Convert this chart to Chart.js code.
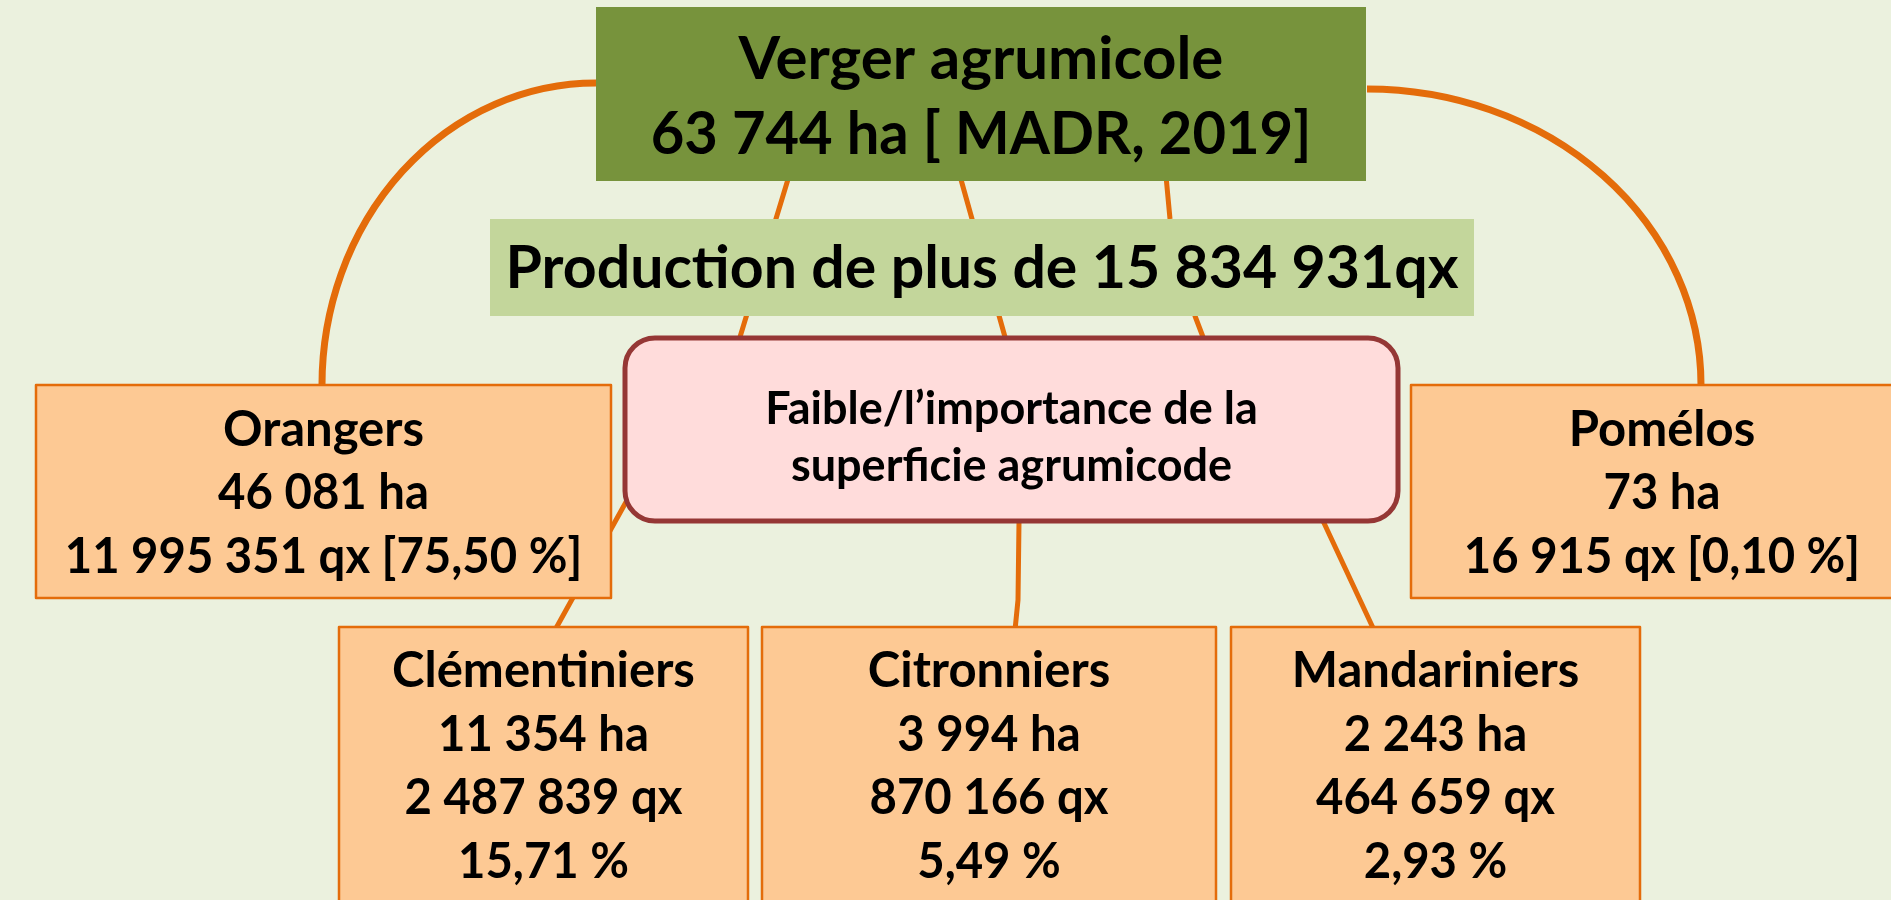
<!DOCTYPE html>
<html><head><meta charset="utf-8">
<script src="https://cdn.jsdelivr.net/npm/chart.js@4"></script>
<style>html,body{margin:0;padding:0;background:#EBF1DE;overflow:hidden}canvas{display:block}</style>
</head><body>
<canvas id="c" width="1891" height="900" style="width:1891px;height:900px"></canvas>
<script>
// ---- Data ----
const categories = ['Orangers', 'Clémentiniers', 'Citronniers', 'Mandariniers', 'Pomélos'];
const surfaceHa = [46081, 11354, 3994, 2243, 73];
const productionQx = [11995351, 2487839, 870166, 464659, 16915];
const sharePct = [75.50, 15.71, 5.49, 2.93, 0.10];
const totalSurfaceHa = 63744;
const totalProductionQx = 15834931;
const titleText = 'Verger agrumicole';
const sourceText = 'MADR, 2019';
const noteLines = ['Faible/l\u2019importance de la', 'superficie agrumicode'];

// ---- Formatting ----
function grp(n) { return String(n).replace(/\B(?=(\d{3})+(?!\d))/g, ' '); }
function pct(v) { return v.toFixed(2).replace('.', ','); }

// ---- Layout (diagram geometry, in axis units) ----
const layout = {
  bg: '#EBF1DE',
  top: { x0: 596, x1: 1366, y0: 7, y1: 181, fill: '#77933C', size: 60, baselines: [79, 154] },
  prod: { x0: 490, x1: 1474, y0: 219, y1: 316, fill: '#C3D69B', size: 59, baselines: [288] },
  note: { x0: 625, x1: 1398, y0: 338, y1: 521, r: 30, fill: '#FFDCDB', stroke: '#953735', lw: 5, size: 45, baselines: [424, 481] },
  boxes: [
    { x0: 36, x1: 611, y0: 385, y1: 598, wide: true, baselines: [446, 509, 573] },
    { x0: 339, x1: 748, y0: 627, y1: 930, wide: false, baselines: [687, 751, 814, 878] },
    { x0: 762, x1: 1216, y0: 627, y1: 930, wide: false, baselines: [687, 751, 814, 878] },
    { x0: 1231, x1: 1640, y0: 627, y1: 930, wide: false, baselines: [687, 751, 814, 878] },
    { x0: 1411, x1: 1913, y0: 385, y1: 598, wide: true, baselines: [446, 509, 573] }
  ],
  boxFill: '#FDC994', boxStroke: '#E46C0A', boxSize: 49,
  lineColor: '#E46C0A',
  arcWidth: 7, connWidth: 5,
  arcs: [
    { cx: 596, cy: 385, rx: 274, ry: 302, a0: Math.PI, a1: 1.5 * Math.PI },
    { cx: 1367, cy: 385, rx: 334, ry: 296, a0: -0.5 * Math.PI, a1: 0 }
  ],
  connectors: [
    [[789, 176], [740, 337], [626, 502], [555, 630]],
    [[960, 176], [1005, 337], [1019, 522], [1018, 600], [1015, 630]],
    [[1166, 176], [1170, 219], [1195, 316], [1203, 337], [1324, 523], [1374, 630]]
  ],
  font: 'Lato, "Open Sans", sans-serif',
  sx: 1.0,
  sxDigits: 0.965
};

const diagram = {
  id: 'diagram',
  beforeDraw(chart) {
    const c = chart.ctx, X = v => chart.scales.x.getPixelForValue(v), Y = v => chart.scales.y.getPixelForValue(v);
    const L = layout;
    c.save();
    c.fillStyle = L.bg;
    c.fillRect(0, 0, chart.width, chart.height);

    // connectors
    c.strokeStyle = L.lineColor;
    c.lineJoin = 'round';
    c.lineWidth = L.arcWidth;
    L.arcs.forEach(a => {
      c.beginPath();
      c.ellipse(X(a.cx), Y(a.cy), Math.abs(X(a.cx + a.rx) - X(a.cx)), Math.abs(Y(a.cy + a.ry) - Y(a.cy)), 0, a.a0, a.a1);
      c.stroke();
    });
    c.lineWidth = L.connWidth;
    L.connectors.forEach(pts => {
      c.beginPath();
      pts.forEach((p, i) => i ? c.lineTo(X(p[0]), Y(p[1])) : c.moveTo(X(p[0]), Y(p[1])));
      c.stroke();
    });

    function rect(b, fill, stroke, lw) {
      c.fillStyle = fill;
      c.fillRect(X(b.x0), Y(b.y0), X(b.x1) - X(b.x0), Y(b.y1) - Y(b.y0));
      if (stroke) {
        c.strokeStyle = stroke; c.lineWidth = lw;
        c.strokeRect(X(b.x0), Y(b.y0), X(b.x1) - X(b.x0), Y(b.y1) - Y(b.y0));
      }
    }
    function text(lines, b, size) {
      c.fillStyle = '#000';
      c.font = 'bold ' + size + 'px ' + L.font;
      c.textAlign = 'center';
      c.textBaseline = 'alphabetic';
      const cx = X((b.x0 + b.x1) / 2);
      lines.forEach((t, i) => {
        c.save();
        c.translate(cx, Y(b.baselines[i]));
        c.scale(/^\d/.test(t) ? L.sxDigits : L.sx, 1);
        c.fillText(t, 0, 0);
        c.restore();
      });
    }

    rect(L.top, L.top.fill);
    text([titleText, grp(totalSurfaceHa) + ' ha [ ' + sourceText + ']'], L.top, L.top.size);
    rect(L.prod, L.prod.fill);
    text(['Production de plus de ' + grp(totalProductionQx) + 'qx'], L.prod, L.prod.size);

    // note rounded box
    const n = L.note;
    c.beginPath();
    c.roundRect(X(n.x0), Y(n.y0), X(n.x1) - X(n.x0), Y(n.y1) - Y(n.y0), n.r);
    c.fillStyle = n.fill; c.fill();
    c.strokeStyle = n.stroke; c.lineWidth = n.lw; c.stroke();
    text(noteLines, n, n.size);

    categories.forEach((name, i) => {
      const b = L.boxes[i];
      rect(b, L.boxFill, L.boxStroke, 2.5);
      const lines = b.wide
        ? [name, grp(surfaceHa[i]) + ' ha', grp(productionQx[i]) + ' qx [' + pct(sharePct[i]) + ' %]']
        : [name, grp(surfaceHa[i]) + ' ha', grp(productionQx[i]) + ' qx', pct(sharePct[i]) + ' %'];
      text(lines, b, L.boxSize);
    });
    c.restore();
  }
};

new Chart(document.getElementById('c'), {
  type: 'scatter',
  data: { datasets: [{ data: [] }] },
  options: {
    responsive: false,
    animation: false,
    events: [],
    layout: { padding: 0 },
    plugins: { legend: { display: false }, tooltip: { enabled: false } },
    scales: {
      x: { type: 'linear', min: 0, max: 1891, display: false },
      y: { type: 'linear', min: 0, max: 900, reverse: true, display: false }
    }
  },
  plugins: [diagram]
});
</script>
</body></html>
